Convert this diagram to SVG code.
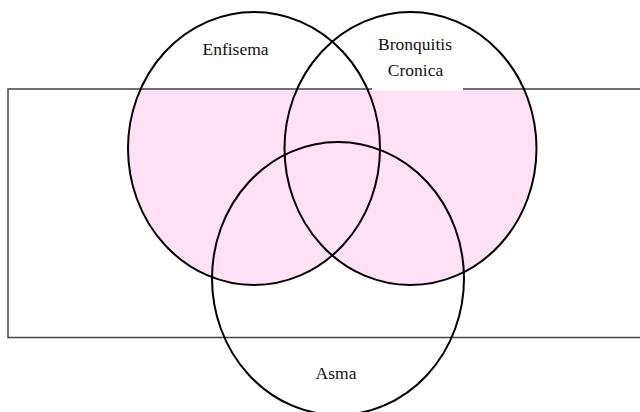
<svg xmlns="http://www.w3.org/2000/svg" width="640" height="412" viewBox="0 0 640 412">
  <style>
    .set { fill: none; stroke: #000; stroke-width: 2; }
    .lbl { font-family: "Liberation Serif", "Times New Roman", serif; font-size: 17.5px; fill: #111; text-anchor: middle; }
    .pink { fill: #FFE0F5; stroke: none; }
    .frame { fill: none; stroke: #444; stroke-width: 1.5; }
  </style>
  <defs>
    <clipPath id="inFrame">
      <rect x="8" y="89" width="640" height="248.5"/>
    </clipPath>
  </defs>
  <rect width="640" height="412" fill="#fff"/>
  <g id="shaded" clip-path="url(#inFrame)">
    <ellipse class="pink" cx="254" cy="148.5" rx="126" ry="136.5"/>
    <ellipse class="pink" cx="410.5" cy="148.5" rx="126" ry="136.5"/>
  </g>
  <g id="universe">
    <rect class="frame" x="8" y="89" width="640" height="248.5"/>
  </g>
  <rect x="372" y="30" width="91" height="60.5" fill="#fff"/>
  <g id="connectors"></g>
  <g id="enfisema">
    <ellipse class="set" cx="254" cy="148.5" rx="126" ry="136.5"/>
    <text class="lbl" x="235.5" y="55">Enfisema</text>
  </g>
  <g id="bronquitis">
    <ellipse class="set" cx="410.5" cy="148.5" rx="126" ry="136.5"/>
    <text class="lbl" x="415" y="50">Bronquitis</text>
    <text class="lbl" x="415.5" y="75.5">Cronica</text>
  </g>
  <g id="asma">
    <ellipse class="set" cx="338" cy="278.5" rx="126" ry="136.5"/>
    <text class="lbl" x="336" y="379">Asma</text>
  </g>
</svg>
